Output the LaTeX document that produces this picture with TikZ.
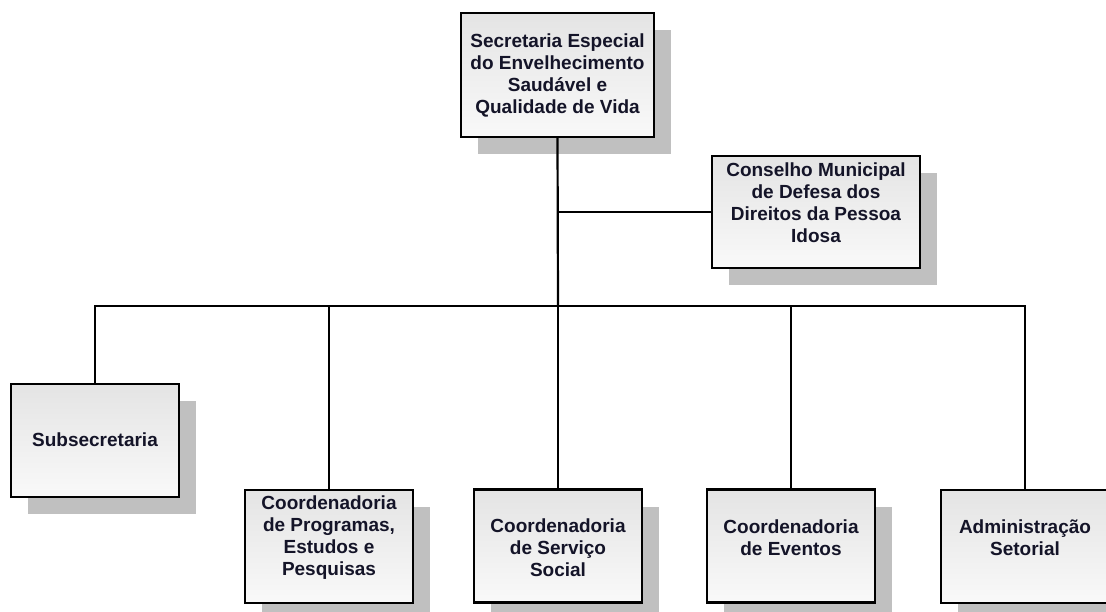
\documentclass[tikz,border=0pt]{standalone}
\usepackage{fontspec}
\setmainfont{Liberation Sans}
\usetikzlibrary{shadows}
\definecolor{boxtop}{RGB}{228,228,228}
\definecolor{boxbot}{RGB}{249,249,249}
\definecolor{shadowgray}{RGB}{192,192,192}
\definecolor{txt}{RGB}{20,20,40}
\begin{document}
\begin{tikzpicture}[x=1pt,y=-1pt,
  orgbox/.style={draw=black, line width=2.2pt, rectangle, inner sep=0pt,
    top color=boxtop, bottom color=boxbot,
    general shadow={fill=shadowgray, shadow xshift=17pt, shadow yshift=-17pt},
    minimum width=168pt, minimum height=113pt},
  orgtext/.style={text=txt, align=center, inner sep=0pt,
    font=\fontsize{19}{22}\selectfont\bfseries},
  conn/.style={line width=2.2pt, draw=black}]
\useasboundingbox (0,0) rectangle (1106,612);
% boxes
\node[orgbox, minimum width=193pt, minimum height=124pt] (top) at (557.5,75) {};
\node[orgbox, minimum width=208pt, minimum height=112pt] (cons) at (816,212) {};
\node[orgbox] (sub) at (95,440.5) {};
\node[orgbox] (prog) at (329,546.5) {};
\node[orgbox] (serv) at (558,546) {};
\node[orgbox] (evt) at (791,546) {};
\node[orgbox] (adm) at (1025,546.5) {};
% texts
\node[orgtext] (ttop) at (557.5,75) {Secretaria Especial\\do Envelhecimento\\Saudável e\\Qualidade de Vida};
\node[orgtext] (tcons) at (816,203) {Conselho Municipal\\de Defesa dos\\Direitos da Pessoa\\Idosa};
\node[orgtext] (tsub) at (95,440) {Subsecretaria};
\node[orgtext] (tprog) at (329,538) {Coordenadoria\\de Programas,\\Estudos e\\Pesquisas};
\node[orgtext] (tserv) at (558,548) {Coordenadoria\\de Serviço\\Social};
\node[orgtext] (tevt) at (791,538) {Coordenadoria\\de Eventos};
\node[orgtext] (tadm) at (1025,538) {Administração\\Setorial};
% connectors
\coordinate (bus) at (558,306);
\coordinate (br) at (558,212);
\draw[conn] (top.south) -- (bus);
\draw[conn] (br) -- (cons.west);
\draw[conn] (sub.north) |- (bus) -| (adm.north);
\draw[conn] (prog.north) -- (prog.north |- bus);
\draw[conn] (serv.north) -- (serv.north |- bus);
\draw[conn] (evt.north) -- (evt.north |- bus);
\end{tikzpicture}
\end{document}
